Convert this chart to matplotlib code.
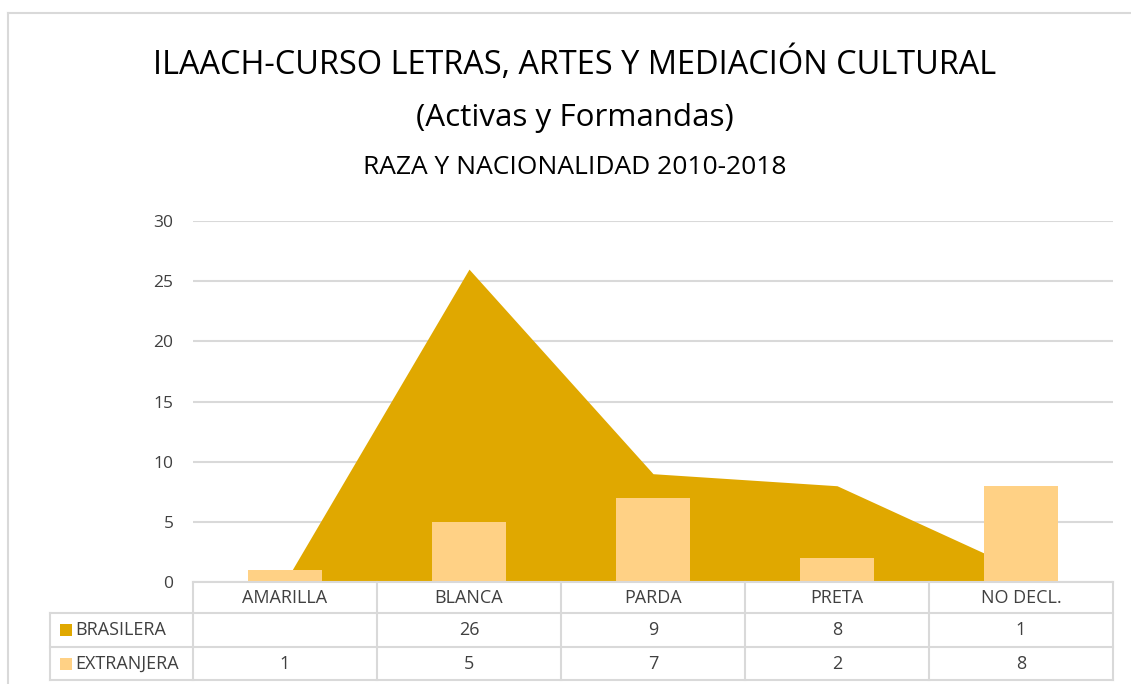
import matplotlib.pyplot as plt
import matplotlib.transforms as mtransforms
from matplotlib.patches import Rectangle
from matplotlib.lines import Line2D
import numpy as np

# DATA
categories = ['AMARILLA', 'BLANCA', 'PARDA', 'PRETA', 'NO DECL.']
brasilera = [None, 26, 9, 8, 1]
extranjera = [1, 5, 7, 2, 8]
series_names = ['BRASILERA', 'EXTRANJERA']
yticks = [0, 5, 10, 15, 20, 25, 30]

GOLD = '#E0A800'
LIGHT = '#FFD185'
GRID = '#D9D9D9'
TXT = '#404040'

plt.rcParams['font.family'] = ['Open Sans', 'DejaVu Sans']

W, H = 1131, 684
fig = plt.figure(figsize=(W / 100, H / 100), dpi=100)

def fx(px):
    return px / W

def fy(py):
    return 1 - py / H

# outer chart border (top + left visible)
fig.add_artist(Line2D([fx(8), fx(8)], [fy(13), fy(690)], color=GRID, lw=1.5))
fig.add_artist(Line2D([fx(8), fx(1140)], [fy(13), fy(13)], color=GRID, lw=1.5))

# titles
fig.text(0.508, fy(64), 'ILAACH-CURSO LETRAS, ARTES Y MEDIACIÓN CULTURAL',
         ha='center', va='center', fontsize=23.4, color='black')
fig.text(0.508, fy(118), '(Activas y Formandas)',
         ha='center', va='center', fontsize=22.6, color='black')
fig.text(0.508, fy(167), 'RAZA Y NACIONALIDAD 2010-2018',
         ha='center', va='center', fontsize=19, color='black')

left, right, top, bottom = 193, 1113, 221, 582
ax = fig.add_axes([fx(left), fy(bottom), (right - left) / W, (bottom - top) / H])

x = np.arange(len(categories))
bras_vals = [0 if v is None else v for v in brasilera]
ax.fill_between(x, bras_vals, 0, color=GOLD, lw=0, zorder=2)
ax.bar(x, extranjera, width=0.4, color=LIGHT, zorder=3)

ax.set_xlim(-0.5, len(categories) - 0.5)
ax.set_ylim(0, 30)
ax.set_yticks(yticks)
ax.set_yticklabels([str(t) for t in yticks], color=TXT, fontsize=12.5)
ax.set_xticks([])
ax.tick_params(axis='y', length=0, pad=14)
ax.grid(axis='y', color=GRID, lw=1.5, zorder=0)
ax.set_axisbelow(True)
for s in ax.spines.values():
    s.set_visible(False)

# data table below the axes
trans = mtransforms.blended_transform_factory(ax.transData, fig.transFigure)
row_y = [582, 613, 647, 680]
lw = 1.5
for i, py in enumerate(row_y):
    x0 = fx(left) if i == 0 else fx(50)
    fig.add_artist(Line2D([x0, fx(right)], [fy(py), fy(py)], color=GRID, lw=lw))
for k in range(len(categories) + 1):
    xx = fx(left) + k * (right - left) / W / len(categories)
    fig.add_artist(Line2D([xx, xx], [fy(582), fy(680)], color=GRID, lw=lw))
fig.add_artist(Line2D([fx(50), fx(50)], [fy(613), fy(680)], color=GRID, lw=lw))

fs = 13
for i, c in enumerate(categories):
    ax.text(i, fy(598), c, transform=trans, ha='center', va='center', fontsize=fs, color=TXT)
    bv = brasilera[i]
    ax.text(i, fy(630), '' if bv is None else str(bv), transform=trans,
            ha='center', va='center', fontsize=fs, color=TXT)
    ax.text(i, fy(664), str(extranjera[i]), transform=trans,
            ha='center', va='center', fontsize=fs, color=TXT)

for name, col, py in zip(series_names, [GOLD, LIGHT], [630, 664]):
    fig.add_artist(Rectangle((fx(60), fy(py + 6)), 12 / W, 12 / H, color=col, lw=0))
    fig.text(fx(75), fy(py), name, ha='left', va='center', fontsize=fs, color=TXT)

fig.savefig('out.png', dpi=100)
